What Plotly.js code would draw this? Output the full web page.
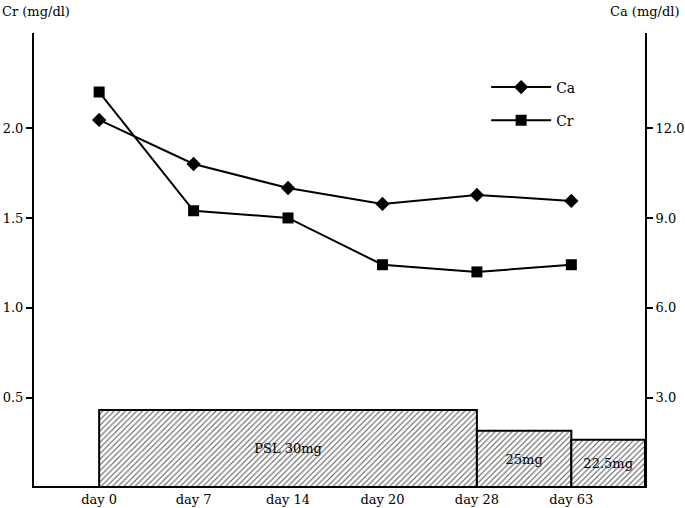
<!DOCTYPE html>
<html>
<head>
<meta charset="utf-8">
<script src="https://cdn.plot.ly/plotly-3.0.1.min.js"></script>
<style>html,body{margin:0;padding:0;background:#fff}#chart{width:685px;height:508px}</style>
</head>
<body>
<div id="chart"></div>
<script>
var days = ['day 0', 'day 7', 'day 14', 'day 20', 'day 28', 'day 63'];
var caValues = [12.27, 10.8, 10.0, 9.47, 9.77, 9.57];
var crValues = [2.2, 1.54, 1.5, 1.24, 1.2, 1.24];
var doseLabels = ['PSL 30mg', '25mg', '22.5mg'];
var doseStart = ['day 0', 'day 28', 'day 63'];
var doseLevel = [0.433, 0.317, 0.267];

var xMin = -0.69, xMax = 5.78;
var idx = days.map(function(d, i){ return i; });

var barX = [], barW = [];
for (var i = 0; i < doseStart.length; i++) {
  var s = days.indexOf(doseStart[i]);
  var e = (i + 1 < doseStart.length) ? days.indexOf(doseStart[i + 1]) : xMax;
  barX.push((s + e) / 2);
  barW.push(e - s);
}

var FONT = 'DejaVu Serif, serif';

var traces = [
  {
    type: 'bar', x: barX, y: doseLevel, width: barW, yaxis: 'y',
    text: doseLabels, textposition: 'inside', insidetextanchor: 'middle',
    textangle: 0, constraintext: 'none',
    insidetextfont: {family: FONT, size: 13, color: '#000'},
    marker: {color: '#fff', line: {color: '#000', width: 2},
      pattern: {shape: '/', fgcolor: '#555', bgcolor: '#fff', size: 4, solidity: 0.25}},
    showlegend: false, hoverinfo: 'skip'
  },
  {
    type: 'scatter', mode: 'lines+markers', name: 'Ca', x: idx, y: caValues, yaxis: 'y2',
    legendgroup: 'ca',
    line: {color: '#000', width: 2},
    marker: {symbol: 'diamond', size: 11, color: '#000'}
  },
  {
    type: 'scatter', mode: 'lines+markers', name: 'Cr', x: idx, y: crValues, yaxis: 'y',
    legendgroup: 'cr',
    line: {color: '#000', width: 2},
    marker: {symbol: 'square', size: 11, color: '#000'}
  }
];

var layout = {
  width: 685, height: 508,
  margin: {l: 34, r: 40, t: 33, b: 22},
  paper_bgcolor: '#fff', plot_bgcolor: '#fff',
  font: {family: FONT, size: 13, color: '#000'},
  xaxis: {
    range: [xMin, xMax], tickvals: idx, ticktext: days,
    showgrid: false, zeroline: false, showline: true, linecolor: '#000', linewidth: 2,
    ticks: '', tickfont: {family: FONT, size: 13, color: '#000'}
  },
  yaxis: {
    range: [0.01, 2.528], tickvals: [0.5, 1.0, 1.5, 2.0], ticktext: ['0.5', '1.0', '1.5', '2.0'],
    showgrid: false, zeroline: false, showline: true, linecolor: '#000', linewidth: 2,
    ticks: 'outside', ticklen: 6, tickwidth: 1.5, tickcolor: '#000',
    tickfont: {family: FONT, size: 13, color: '#000'}
  },
  yaxis2: {
    range: [0.06, 15.17], overlaying: 'y', side: 'right',
    tickvals: [3, 6, 9, 12], ticktext: ['3.0', '6.0', '9.0', '12.0'],
    showgrid: false, zeroline: false, showline: true, linecolor: '#000', linewidth: 2,
    ticks: 'outside', ticklen: 6, tickwidth: 1.5, tickcolor: '#000',
    tickfont: {family: FONT, size: 13, color: '#000'}
  },
  showlegend: true,
  legend: {x: 0.74, y: 0.915, xanchor: 'left', yanchor: 'top', bgcolor: 'rgba(0,0,0,0)',
    font: {family: FONT, size: 14, color: '#000'}, tracegroupgap: 12, itemwidth: 60},
  annotations: [
    {text: 'Cr (mg/dl)', xref: 'paper', yref: 'paper', x: 0, y: 1, xshift: -34, yshift: 22,
     xanchor: 'left', yanchor: 'middle', showarrow: false, font: {family: FONT, size: 13, color: '#000'}},
    {text: 'Ca (mg/dl)', xref: 'paper', yref: 'paper', x: 1, y: 1, xshift: 36, yshift: 22,
     xanchor: 'right', yanchor: 'middle', showarrow: false, font: {family: FONT, size: 13, color: '#000'}}
  ]
};

Plotly.newPlot('chart', traces, layout, {displayModeBar: false, staticPlot: true});
</script>
</body>
</html>
